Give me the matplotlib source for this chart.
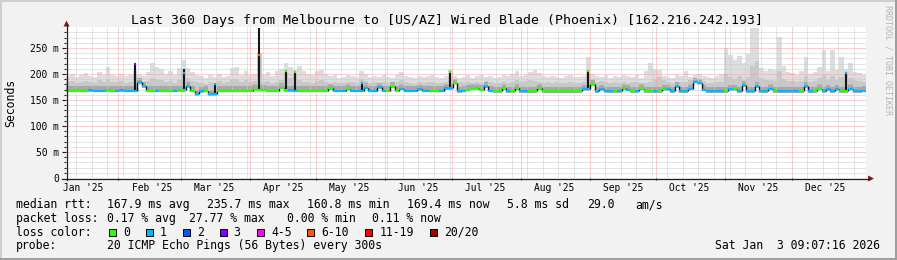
import numpy as np
import matplotlib
matplotlib.use("Agg")
import matplotlib.pyplot as plt
from matplotlib.collections import LineCollection
from matplotlib.patches import Rectangle, Polygon
from matplotlib.lines import Line2D
from matplotlib.transforms import blended_transform_factory, offset_copy
from datetime import datetime, timedelta

# ---------------- data (2-day bins, 360 days) ----------------
end_time = datetime(2026, 1, 3, 9, 7, 16)
span_days = 360
bin_days = 2

median_ms = [
    168,168,169,168,168,169,168,168,168,169,
    168,168,169,168,168,219,184,176,168,168,
    168,168,168,168,168,169,202,176,168,161,
    167,168,161,180,168,168,168,168,168,168,
    168,168,172,236,170,168,168,168,174,205,
    169,203,168,168,168,168,168,168,168,173,
    168,168,168,172,168,168,183,174,168,168,
    175,168,168,177,168,172,168,168,168,171,
    168,168,168,168,168,173,204,183,167,168,
    170,172,173,170,177,168,167,167,173,167,
    167,173,167,167,167,167,173,167,167,167,
    167,167,167,167,167,167,171,206,180,167,
    171,167,167,167,167,173,170,167,167,172,
    167,167,167,167,171,171,167,176,167,167,
    172,185,183,170,167,167,167,167,167,171,
    171,167,178,167,167,177,167,167,172,167,
    167,167,167,167,167,167,177,167,167,172,
    167,171,167,171,167,202,172,167,167,168,
]

loss_idx = [
    0,0,0,0,0,1,1,1,1,0,
    0,1,1,1,1,3,1,1,0,0,
    1,0,0,0,1,0,1,1,0,1,
    1,0,1,1,0,0,0,0,0,0,
    0,0,0,5,0,0,0,0,0,0,
    1,0,0,0,0,0,0,0,0,0,
    1,1,1,0,1,1,1,1,1,1,
    1,1,0,0,0,1,1,1,1,1,
    1,1,0,0,1,1,0,0,1,1,
    0,0,0,0,1,1,0,0,0,1,
    0,0,1,1,0,0,0,0,0,0,
    0,0,0,0,0,0,1,0,0,1,
    1,1,1,0,1,0,1,0,1,0,
    0,0,1,0,0,1,1,1,1,1,
    1,1,1,1,1,1,1,1,0,1,
    0,1,1,1,1,1,1,1,1,0,
    1,1,1,1,1,0,1,1,0,0,
    1,1,1,1,0,1,1,1,1,1,
]

smoke_hi_ms = [
    196,200,194,198,202,197,195,204,199,213,198,196,
    200,196,198,
    205,199,197,
    203,221,214,210,200,205,198,212,
    227,212,204,198,
    196,192,198,195,200,194,197,212,213,199,206,
    198,200,195,199,203,196,205,
    210,221,214,207,215,205,200,198,
    205,208,200,196,198,193,195,199,197,194,206,200,195,197,194,
    198,195,193,199,204,196,195,192,197,194,196,199,195,193,197,210,
    197,193,195,198,192,196,199,194,197,193,195,198,196,200,205,
    197,199,203,207,201,196,194,197,195,193,196,198,194,195,197,233,
    200,196,194,198,193,197,195,199,196,194,198,193,206,221,210,
    207,196,194,193,198,197,206,195,199,200,196,194,193,197,200,
    250,236,226,235,222,238,288,288,212,205,209,207,271,215,204,
    202,198,205,232,200,203,214,246,205,246,207,233,210,221,204,201,199,
]

smoke_mid_ms = [
    184,186,183,185,187,184,183,188,185,190,
    185,184,186,183,185,200,190,184,186,192,
    190,188,184,186,183,189,205,192,187,184,
    183,181,185,183,186,182,184,191,190,185,
    188,185,186,240,184,186,183,185,189,200,
    193,198,188,185,184,183,186,189,185,183,
    184,182,183,185,184,182,190,186,183,184,
    182,185,183,182,185,188,184,183,181,184,
    183,185,184,182,183,185,195,188,184,182,
    185,183,184,182,186,185,183,182,184,183,
    185,188,184,186,189,187,184,183,185,182,
    184,182,183,185,183,182,184,200,190,185,
    186,184,182,185,183,184,182,185,184,183,
    182,185,190,195,188,184,182,183,185,184,
    189,192,190,186,183,182,184,185,200,195,
    190,196,188,194,215,225,192,189,188,187,
    205,190,186,187,185,186,196,185,187,192,
    198,188,197,189,195,200,193,188,186,184,
]

# narrow dark spikes: bin -> top of dark smoke (ms)
dark_spikes = {15: 219, 26: 210, 33: 182, 43: 288, 49: 208, 51: 205,
               66: 184, 86: 206, 117: 207, 175: 204}

y_ticks = [0, 50, 100, 150, 200, 250]
y_tick_labels = ["0", "50 m", "100 m", "150 m", "200 m", "250 m"]

loss_labels = ["0", "1", "2", "3", "4-5", "6-10", "11-19", "20/20"]
loss_colors = ["#26ff00", "#00b8ff", "#0059ff", "#7e00ff",
               "#ff00ff", "#ff5500", "#ff0000", "#a10000"]

title = "Last 360 Days from Melbourne to [US/AZ] Wired Blade (Phoenix) [162.216.242.193]"

# ---------------- figure ----------------
W, H = 897, 260
MONO = "DejaVu Sans Mono"
fig = plt.figure(figsize=(W / 100, H / 100), dpi=100, facecolor="#f2f2f2")

def P(x, y):
    return (x / W, 1 - y / H)

# 3D frame
for (x, y, w, h, c) in [(0, 0, W, 2, "#cfcfcf"), (0, 0, 2, H, "#cfcfcf"),
                        (0, H - 2, W, 2, "#9e9e9e"), (W - 2, 0, 2, H, "#9e9e9e")]:
    fig.add_artist(Rectangle((x / W, 1 - (y + h) / H), w / W, h / H,
                             transform=fig.transFigure, color=c, lw=0))

X0, Y0, PW, PH = 66, 178, 800, 290 * 0.52
ax = fig.add_axes([X0 / W, (H - Y0) / H, PW / W, PH / H])
ax.set_facecolor("white")
ax.set_xlim(0, span_days)
ax.set_ylim(0, 290)
for s in ax.spines.values():
    s.set_visible(False)
ax.set_xticks([])
ax.set_yticks([])

start_time = end_time - timedelta(days=span_days)
def day_of(dt):
    return (dt - start_time).total_seconds() / 86400.0

# ---------------- grid ----------------
dot = (0, (1, 1))
minor_y = [v for v in range(10, 290, 10) if v % 50 != 0]
major_y = [50, 100, 150, 200, 250]
ax.hlines(minor_y, 0, span_days, colors="#cacaca", linestyles=dot, lw=0.72, zorder=3)
ax.hlines(major_y, 0, span_days, colors="#f2a2a2", linestyles=dot, lw=0.72, zorder=3)

month_starts = [datetime(2025, m, 1) for m in range(2, 13)]
month_days = [day_of(d) for d in month_starts]
week_days = []
d = datetime(2025, 1, 13)
while d < end_time:
    wd = day_of(d)
    if 0 < wd < span_days and all(abs(wd - m) > 0.6 for m in month_days):
        week_days.append(wd)
    d += timedelta(days=7)
ax.vlines(week_days, 0, 290, colors="#cacaca", linestyles=dot, lw=0.72, zorder=3)
ax.vlines(month_days, 0, 290, colors="#f2a2a2", linestyles=dot, lw=0.72, zorder=3)

# ---------------- smoke ----------------
n = len(median_ms)
med = np.array(median_ms, float)
x_edges = np.arange(n + 1) * bin_days
centers = x_edges[:-1] + bin_days / 2
spike_bins = sorted(dark_spikes)
is_spike = np.zeros(n, bool)
is_spike[spike_bins] = True
base = med.copy()
for i in spike_bins:
    base[i] = min(med[i - 1], med[i + 1])
lo = base - 3
dark_top = base + 8
mid_top = np.maximum(np.array(smoke_mid_ms, float), dark_top)
hi_top = np.maximum(np.array(smoke_hi_ms, float), mid_top)

def st(a):
    return np.append(a, a[-1])

ax.fill_between(x_edges, st(lo), st(hi_top), step="post", color="#dddddd", lw=0, zorder=2)
ax.fill_between(x_edges, st(lo), st(mid_top), step="post", color="#c8c8c8", lw=0, zorder=2)
ax.fill_between(x_edges, st(lo), st(dark_top), step="post", color="#a8a8a8", lw=0, zorder=2)

# dark spikes
ax.vlines(centers[spike_bins], base[spike_bins] - 2, [dark_spikes[i] for i in spike_bins],
          colors="#161616", lw=1.5, zorder=4)

# ---------------- median line ----------------
segs, cols = [], []
for i in range(n):
    if is_spike[i]:
        segs.append([(x_edges[i], base[i]), (x_edges[i + 1], base[i])])
        cols.append(loss_colors[loss_idx[i - 1]])
        segs.append([(centers[i] - 0.45, med[i]), (centers[i] + 0.45, med[i])])
        cols.append(loss_colors[loss_idx[i]])
    else:
        segs.append([(x_edges[i], med[i]), (x_edges[i + 1], med[i])])
        cols.append(loss_colors[loss_idx[i]])
conn = []
for i in range(n - 1):
    a = base[i] if is_spike[i] else med[i]
    b = base[i + 1] if is_spike[i + 1] else med[i + 1]
    if abs(a - b) > 2.5:
        conn.append([(x_edges[i + 1], a), (x_edges[i + 1], b)])
ax.add_collection(LineCollection(conn, colors="#111111", lw=1.0, zorder=4))
ax.add_collection(LineCollection(segs, colors=cols, lw=1.6, zorder=5, capstyle="butt"))

# ---------------- axes lines & arrows ----------------
AX_C, AR_C = "#1f1f1f", "#7f1f1f"
fig.add_artist(Line2D([66.5 / W] * 2, [1 - 180 / H, 1 - 24 / H], color=AX_C, lw=0.9,
                      transform=fig.transFigure))
fig.add_artist(Line2D([62 / W, 870 / W], [1 - 178.5 / H] * 2, color=AX_C, lw=0.9,
                      transform=fig.transFigure))
fig.add_artist(Polygon([P(63.5, 26.5), P(69.5, 26.5), P(66.5, 20.5)], closed=True,
                       color=AR_C, lw=0, transform=fig.transFigure))
fig.add_artist(Polygon([P(868, 175.5), P(868, 181.5), P(874, 178.5)], closed=True,
                       color=AR_C, lw=0, transform=fig.transFigure))

# y ticks & labels
ytr = blended_transform_factory(ax.transAxes, ax.transData)
for v, lab in zip(y_ticks, y_tick_labels):
    ax.text(0, v, lab, transform=offset_copy(ytr, fig=fig, x=-7, y=-3.5, units="dots"),
            ha="right", va="baseline", fontsize=6.9, family=MONO, clip_on=False)
ax.hlines(major_y, -4 / PW * span_days, 0, colors=AX_C, lw=0.8, clip_on=False, zorder=6)
ax.hlines(minor_y, -2 / PW * span_days, 0, colors=AX_C, lw=0.8, clip_on=False, zorder=6)

# x ticks & month labels
ax.vlines(month_days, -2 / 0.52, 0, colors=AX_C, lw=0.8, clip_on=False, zorder=6)
xtr = blended_transform_factory(ax.transData, fig.transFigure)
for m in range(1, 13):
    dt = datetime(2025, m, 1) + timedelta(days=15)
    ax.text(day_of(dt), 1 - 191 / H, dt.strftime("%b '%y"), transform=xtr,
            ha="center", va="baseline", fontsize=6.9, family=MONO, clip_on=False)

# ---------------- texts ----------------
fig.text(447 / W, 1 - 24 / H, title, ha="center", va="baseline", fontsize=9.5, family=MONO)
fig.text(11 / W, 1 - 102.5 / H, "Seconds", rotation=90, ha="center", va="center",
         fontsize=8.3, family=MONO)
fig.text(887.5 / W, 1 - 5 / H, "RRDTOOL / TOBI OETIKER", rotation=270, ha="center",
         va="top", fontsize=6, family=MONO, color="#b4b4b4")

LF = 8.3
def lt(x, y, s, ha="left"):
    fig.text(x / W, 1 - y / H, s, ha=ha, va="baseline", fontsize=LF, family=MONO)

r1, r2, r3, r4 = 208.3, 222.0, 235.7, 249.3
lt(16, r1, "median rtt:")
for x, s in [(107.3, "167.9 ms avg"), (207.3, "235.7 ms max"), (307.3, "160.8 ms min"),
             (407.3, "169.4 ms now"), (507.3, "5.8 ms sd"), (586.7, "29.0"), (635, "am/s")]:
    lt(x, r1, s)
lt(16, r2, "packet loss:")
for x, s in [(107.3, "0.17 % avg"), (189.0, "27.77 % max"), (286.7, "0.00 % min"),
             (372.3, "0.11 % now")]:
    lt(x, r2, s)
lt(16, r3, "loss color:")
sq_x = [109, 145.7, 183, 219.7, 257, 307, 365.3, 430.3]
for x, lab, c in zip(sq_x, loss_labels, loss_colors):
    fig.add_artist(Rectangle(((x) / W, 1 - 235.5 / H), 7 / W, 7 / H, transform=fig.transFigure,
                             facecolor=c, edgecolor="black", lw=0.7))
    lt(x + 14, r3, lab)
lt(16, r4, "probe:")
lt(107.3, r4, "20 ICMP Echo Pings (56 Bytes) every 300s")
lt(880, r4, "Sat Jan  3 09:07:16 2026", ha="right")

fig.savefig("out.png", dpi=100, facecolor=fig.get_facecolor())
